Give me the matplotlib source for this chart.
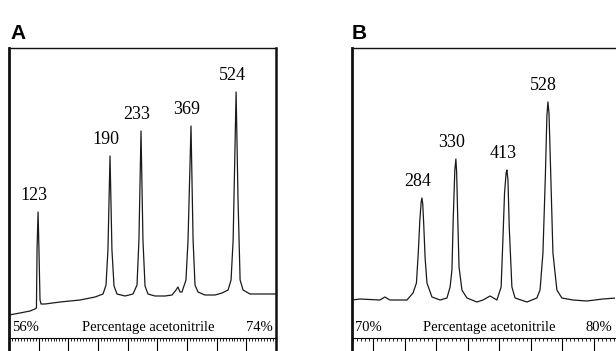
import numpy as np
import matplotlib
matplotlib.use("Agg")
import matplotlib.pyplot as plt
from matplotlib.ticker import MultipleLocator

# Panel A: gradient 56-74 % acetonitrile
range_a = (56, 74)
trace_a_pct = [56.00, 56.74, 57.42, 57.75, 57.85, 57.89, 57.96, 58.02, 58.09, 58.16,
               58.43, 59.44, 60.79, 61.80, 62.34, 62.54, 62.67, 62.81, 62.94, 63.08,
               63.28, 63.82, 64.36, 64.63, 64.76, 64.90, 65.03, 65.17, 65.37, 65.84,
               66.52, 66.99, 67.26, 67.39, 67.53, 67.66, 67.93, 68.07, 68.27, 68.41,
               68.54, 68.74, 69.21, 69.89, 70.36, 70.77, 70.97, 71.11, 71.31, 71.44,
               71.58, 71.78, 72.25, 74.00]
trace_a_signal = [23, 25, 27, 29, 30, 88, 126, 88, 38, 34,
                  34, 36, 38, 41, 44, 53, 88, 182, 88, 52,
                  44, 42, 44, 53, 98, 207, 98, 52, 44, 42,
                  42, 43, 48, 51, 46, 46, 58, 98, 212, 98,
                  53, 46, 43, 43, 45, 48, 58, 98, 246, 138,
                  58, 48, 44, 44]
peak_a_pct = [57.96, 62.81, 64.90, 68.27, 71.31]
peak_a_labels = ["123", "190", "233", "369", "524"]

# Panel B: gradient 70-80 % acetonitrile
range_b = (70, 80)
trace_b_pct = [70.00, 70.30, 71.06, 71.25, 71.44, 72.09,
               72.32, 72.45, 72.52, 72.58, 72.63, 72.66, 72.69, 72.73, 72.78, 72.85, 73.04,
               73.35, 73.61,
               73.73, 73.80, 73.85, 73.91, 73.95, 73.98, 74.02, 74.07, 74.18,
               74.37, 74.75, 74.98, 75.25, 75.51,
               75.67, 75.74, 75.80, 75.86, 75.89, 75.93, 75.98, 76.08,
               76.20, 76.65, 77.03,
               77.15, 77.26, 77.35, 77.41, 77.45, 77.49, 77.55, 77.64, 77.79,
               77.98, 78.40, 78.93, 79.54, 80.04]
trace_b_signal = [38, 39, 38, 41, 38, 38,
                  45, 55, 85, 118, 136, 140, 134, 112, 80, 55, 41,
                  38, 40,
                  51, 68, 120, 168, 179, 165, 120, 71, 48,
                  40, 36, 38, 42, 38,
                  51, 100, 145, 165, 168, 158, 110, 51,
                  40, 36, 40,
                  48, 85, 160, 222, 236, 225, 170, 85, 48,
                  40, 38, 37, 39, 40]
peak_b_pct = [72.66, 73.95, 75.89, 77.45]
peak_b_labels = ["284", "330", "413", "528"]

SERIF = "Liberation Serif"
W, H = 616, 351


def draw_panel(ax, pct, signal, peaks, labels, xrange, major, minor, right_spine=True):
    ax.plot(pct, signal, color="#1a1a1a", lw=0.9)
    ax.set_xlim(*xrange)
    ax.set_ylim(-13, 290)

    for side in ("left", "top", "right"):
        ax.spines[side].set_color("#111111")
    ax.spines["left"].set_linewidth(2.0)
    ax.spines["top"].set_linewidth(1.0)
    ax.spines["right"].set_linewidth(1.8)
    ax.spines["right"].set_visible(right_spine)
    ax.spines["bottom"].set_position(("data", 0))
    ax.spines["bottom"].set_linewidth(0.8)

    # the ruler along the bottom
    ax.xaxis.set_major_locator(MultipleLocator(major))
    ax.xaxis.set_minor_locator(MultipleLocator(minor))
    ax.tick_params(axis="x", which="major", direction="out", length=9.5, width=0.8,
                   labelbottom=False)
    ax.tick_params(axis="x", which="minor", direction="out", length=2.2, width=0.6)
    ax.set_yticks([])

    apex = np.interp(peaks, pct, signal)
    for x, y, lab in zip(peaks, apex, labels):
        ax.annotate(lab, xy=(x, y), xytext=(-3, 12), textcoords="offset points",
                    ha="center", va="center", fontsize=13, family=SERIF)

    ax.text(0.011, 0.079, f"{xrange[0]}%", transform=ax.transAxes, ha="left",
            va="center", fontsize=10.5, family=SERIF)
    ax.text(0.52, 0.079, "Percentage acetonitrile", transform=ax.transAxes,
            ha="center", va="center", fontsize=10.5, family=SERIF)
    ax.text(0.989, 0.079, f"{xrange[1]}%", transform=ax.transAxes, ha="right",
            va="center", fontsize=10.5, family=SERIF)


fig = plt.figure(figsize=(W / 100, H / 100), dpi=100)
ax_a = fig.add_axes([9 / W, 0, 267 / W, 303 / H])
ax_b = fig.add_axes([352 / W, 0, 263 / W, 303 / H])

draw_panel(ax_a, trace_a_pct, trace_a_signal, peak_a_pct, peak_a_labels, range_a,
           major=2, minor=0.2)
draw_panel(ax_b, trace_b_pct, trace_b_signal, peak_b_pct, peak_b_labels, range_b,
           major=1.2, minor=0.15, right_spine=False)

fig.text(10 / W, 1 - 39 / H, "A", fontsize=15, fontweight="bold",
         family="Liberation Sans", va="baseline")
fig.text(352 / W, 1 - 39 / H, "B", fontsize=15, fontweight="bold",
         family="Liberation Sans", va="baseline")

fig.savefig("out.png", dpi=100)
